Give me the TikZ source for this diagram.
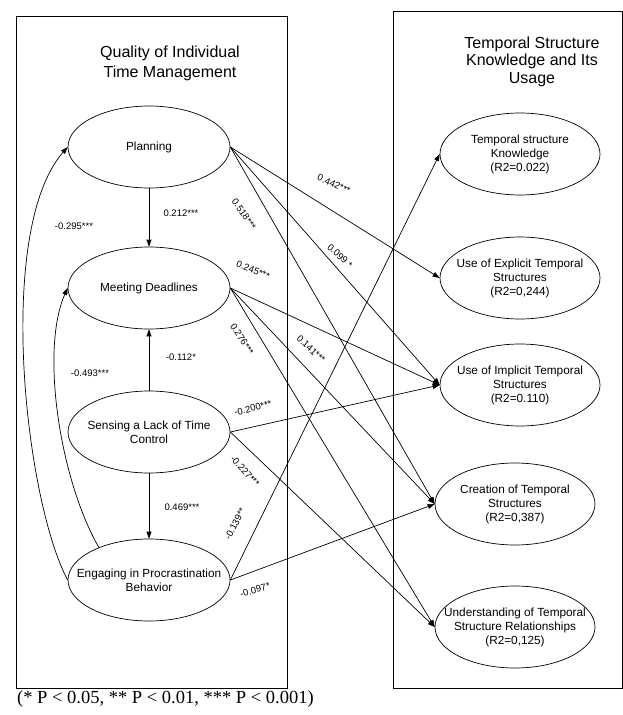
\documentclass[tikz,border=0pt]{standalone}
\usepackage{fontspec}
\setmainfont{Liberation Sans}
\newfontfamily\serifcap{Liberation Serif}
\usetikzlibrary{shapes.geometric,arrows.meta}
\begin{document}
\begin{tikzpicture}[x=1pt,y=-1pt,
  every node/.style={inner sep=0pt},
  ellbox/.style={draw, ellipse, line width=0.7pt, minimum width=162pt, minimum height=82pt, inner xsep=-25pt, inner ysep=0pt, align=center, font=\fontsize{11.8}{14}\selectfont},
  rellbox/.style={ellbox, minimum width=160pt},
  conn/.style={line width=0.7pt, -{Triangle[length=7pt,width=5pt]}},
  coef/.style={font=\fontsize{9.5}{11}\selectfont},
  frame/.style={draw, line width=0.8pt}
]
\useasboundingbox (0,0) rectangle (623,715);
% frames
\draw[frame] (16,16) rectangle (287,688);
\draw[frame] (393,11) rectangle (622,688);
% titles
\node[align=center, font=\fontsize{16}{20}\selectfont] (ttl) at (170,63.5) {Quality of Individual\\Time Management};
\node[align=center, font=\fontsize{16}{17.6}\selectfont] (ttr) at (532,61.7) {Temporal Structure\\Knowledge and Its\\Usage};
% left ellipses
\node[ellbox] (plan) at (149,147) {Planning};
\node[ellbox] (meet) at (149,288) {Meeting Deadlines};
\node[ellbox] (sens) at (149,432) {Sensing a Lack of Time\\Control};
\node[ellbox] (eng) at (149,580) {Engaging in Procrastination\\Behavior};
% right ellipses
\node[rellbox] (know) at (520,154) {Temporal structure\\Knowledge\\(R2=0.022)};
\node[rellbox] (expl) at (520,278) {Use of Explicit Temporal\\Structures\\(R2=0,244)};
\node[rellbox] (impl) at (520,385) {Use of Implicit Temporal\\Structures\\(R2=0.110)};
\node[rellbox] (crea) at (515,504) {Creation of Temporal\\Structures\\(R2=0,387)};
\node[rellbox] (unde) at (515,627) {Understanding of Temporal\\Structure Relationships\\(R2=0,125)};
% left internal connectors
\draw[conn] (plan.south) -- (meet.north);
\draw[conn] (sens.north) -- (meet.south);
\draw[conn] (sens.south) -- (eng.north);
\draw[conn] (eng.west) .. controls (25,500) and (-5,230) .. (plan.west);
\draw[conn] (eng.147) .. controls (60,480) and (40,350) .. (meet.west);
% cross connectors
\draw[conn] (plan.east) -- (expl.west);
\draw[conn] (plan.east) -- (impl.west);
\draw[conn] (plan.east) -- (crea.west);
\draw[conn] (meet.east) -- (impl.west);
\draw[conn] (meet.east) -- (crea.west);
\draw[conn] (meet.east) -- (unde.west);
\draw[conn] (sens.east) -- (impl.west);
\draw[conn] (sens.east) -- (unde.west);
\draw[conn] (eng.east) -- (know.west);
\draw[conn] (eng.east) -- (crea.west);
% coefficients
\node[coef] (c1) at (181,213) {0.212***};
\node[coef] (c2) at (74,226) {-0.295***};
\node[coef] (c3) at (181,357) {-0.112*};
\node[coef] (c4) at (90,373) {-0.493***};
\node[coef] (c5) at (182,507) {0.469***};
\node[coef, rotate=-24] (c6) at (334,184) {0.442***};
\node[coef, rotate=-55] (c7) at (244,214) {0.518***};
\node[coef, rotate=-42] (c8) at (340,256) {0.099 *};
\node[coef, rotate=-22] (c9) at (253,270) {0.245***};
\node[coef, rotate=-57] (c10) at (242,339) {0.276***};
\node[coef, rotate=-43] (c11) at (311,349) {0.141***};
\node[coef, rotate=14] (c12) at (253,408) {-0.200***};
\node[coef, rotate=-48] (c13) at (245,471) {-0.227***};
\node[coef, rotate=63] (c14) at (235,524) {-0.139**};
\node[coef, rotate=16] (c15) at (255,590) {-0.097*};
% note
\node[font=\serifcap\fontsize{18.5}{22}\selectfont, anchor=base west] (note) at (17,703) {(* P < 0.05, ** P < 0.01, *** P < 0.001)};
\end{tikzpicture}
\end{document}
